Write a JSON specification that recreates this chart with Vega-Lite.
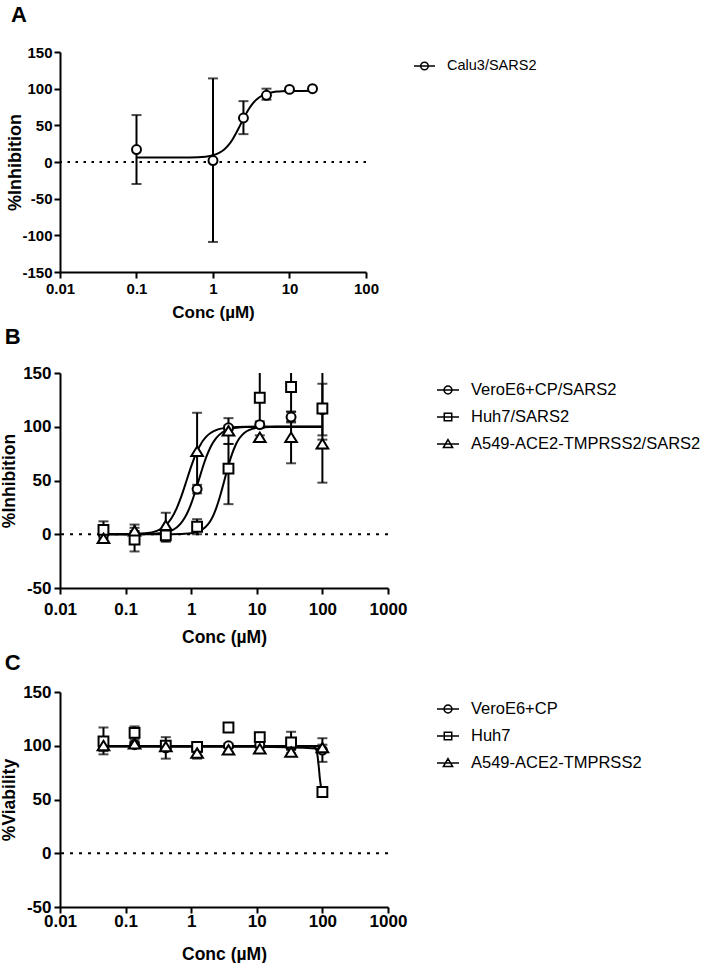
{
  "$schema": "https://vega.github.io/schema/vega-lite/v6.json",
  "padding": {"left": 0, "top": 4, "right": 0, "bottom": 0},
  "background": "white",
  "config": {
    "view": {"stroke": null},
    "font": "Liberation Sans",
    "axis": {"grid": false, "domainColor": "black", "domainWidth": 2, "tickColor": "black", "tickWidth": 2, "tickSize": 6, "labelFont": "Liberation Sans", "labelFontWeight": "bold", "labelColor": "black", "titleFont": "Liberation Sans", "titleFontWeight": "bold", "titleColor": "black", "labelFlush": false, "labelOverlap": false, "labelBound": false},
    "legend": {"labelFont": "Liberation Sans", "labelColor": "black", "labelLimit": 0},
    "title": {"font": "Liberation Sans", "fontWeight": "bold", "fontSize": 22, "color": "black", "anchor": "start", "frame": "bounds"}
  },
  "columns": 1,
  "spacing": 6,
  "datasets": {
    "A_pts": [
      {"conc": 0.1, "val": 17, "lo": -30, "hi": 64, "series": "Calu3/SARS2"},
      {"conc": 1, "val": 2, "lo": -109, "hi": 114, "series": "Calu3/SARS2"},
      {"conc": 2.5, "val": 60, "lo": 38, "hi": 83, "series": "Calu3/SARS2"},
      {"conc": 5, "val": 91, "lo": 85, "hi": 100, "series": "Calu3/SARS2"},
      {"conc": 10, "val": 99, "lo": null, "hi": null, "series": "Calu3/SARS2"},
      {"conc": 20, "val": 100, "lo": null, "hi": null, "series": "Calu3/SARS2"}
    ],
    "A_fit": [
      {"conc": 0.1, "val": 6.0, "series": "Calu3/SARS2"},
      {"conc": 0.2, "val": 6.0, "series": "Calu3/SARS2"},
      {"conc": 0.5, "val": 6.2, "series": "Calu3/SARS2"},
      {"conc": 0.8, "val": 7.3, "series": "Calu3/SARS2"},
      {"conc": 1.0, "val": 9.1, "series": "Calu3/SARS2"},
      {"conc": 1.2, "val": 12.3, "series": "Calu3/SARS2"},
      {"conc": 1.4, "val": 17.0, "series": "Calu3/SARS2"},
      {"conc": 1.6, "val": 23.3, "series": "Calu3/SARS2"},
      {"conc": 1.8, "val": 30.8, "series": "Calu3/SARS2"},
      {"conc": 2.0, "val": 39.1, "series": "Calu3/SARS2"},
      {"conc": 2.2, "val": 47.5, "series": "Calu3/SARS2"},
      {"conc": 2.4, "val": 55.4, "series": "Calu3/SARS2"},
      {"conc": 2.6, "val": 62.4, "series": "Calu3/SARS2"},
      {"conc": 2.8, "val": 68.5, "series": "Calu3/SARS2"},
      {"conc": 3.0, "val": 73.6, "series": "Calu3/SARS2"},
      {"conc": 3.3, "val": 79.6, "series": "Calu3/SARS2"},
      {"conc": 3.6, "val": 84.0, "series": "Calu3/SARS2"},
      {"conc": 4.0, "val": 88.0, "series": "Calu3/SARS2"},
      {"conc": 4.5, "val": 91.2, "series": "Calu3/SARS2"},
      {"conc": 5, "val": 93.1, "series": "Calu3/SARS2"},
      {"conc": 6, "val": 95.1, "series": "Calu3/SARS2"},
      {"conc": 7, "val": 96.0, "series": "Calu3/SARS2"},
      {"conc": 8, "val": 96.4, "series": "Calu3/SARS2"},
      {"conc": 10, "val": 96.7, "series": "Calu3/SARS2"},
      {"conc": 15, "val": 96.95, "series": "Calu3/SARS2"},
      {"conc": 20, "val": 97.0, "series": "Calu3/SARS2"}
    ],
    "B_pts": [
      {"conc": 0.046, "val": -1, "lo": -6, "hi": 4, "series": "VeroE6+CP/SARS2"},
      {"conc": 0.137, "val": 0, "lo": -3, "hi": 3, "series": "VeroE6+CP/SARS2"},
      {"conc": 0.41, "val": -2, "lo": -6, "hi": 2, "series": "VeroE6+CP/SARS2"},
      {"conc": 1.23, "val": 42, "lo": 38, "hi": 46, "series": "VeroE6+CP/SARS2"},
      {"conc": 3.7, "val": 99, "lo": 97, "hi": 101, "series": "VeroE6+CP/SARS2"},
      {"conc": 11.1, "val": 102, "lo": 99, "hi": 105, "series": "VeroE6+CP/SARS2"},
      {"conc": 33.3, "val": 109, "lo": 104, "hi": 114, "series": "VeroE6+CP/SARS2"},
      {"conc": 100, "val": 116, "lo": 92, "hi": 140, "series": "VeroE6+CP/SARS2"},
      {"conc": 0.046, "val": 4, "lo": -4, "hi": 12, "series": "Huh7/SARS2"},
      {"conc": 0.137, "val": -5, "lo": -16, "hi": 6, "series": "Huh7/SARS2"},
      {"conc": 0.41, "val": -1, "lo": -7, "hi": 5, "series": "Huh7/SARS2"},
      {"conc": 1.23, "val": 7, "lo": 0, "hi": 14, "series": "Huh7/SARS2"},
      {"conc": 3.7, "val": 61, "lo": 28, "hi": 84, "series": "Huh7/SARS2"},
      {"conc": 11.1, "val": 127, "lo": 100, "hi": 160, "series": "Huh7/SARS2"},
      {"conc": 33.3, "val": 137, "lo": 105, "hi": 175, "series": "Huh7/SARS2"},
      {"conc": 100, "val": 117, "lo": 48, "hi": 186, "series": "Huh7/SARS2"},
      {"conc": 0.046, "val": -4, "lo": -8, "hi": 0, "series": "A549-ACE2-TMPRSS2/SARS2"},
      {"conc": 0.137, "val": 3, "lo": -3, "hi": 9, "series": "A549-ACE2-TMPRSS2/SARS2"},
      {"conc": 0.41, "val": 8, "lo": -4, "hi": 20, "series": "A549-ACE2-TMPRSS2/SARS2"},
      {"conc": 1.23, "val": 77, "lo": 41, "hi": 113, "series": "A549-ACE2-TMPRSS2/SARS2"},
      {"conc": 3.7, "val": 96, "lo": 84, "hi": 108, "series": "A549-ACE2-TMPRSS2/SARS2"},
      {"conc": 11.1, "val": 90, "lo": 88, "hi": 92, "series": "A549-ACE2-TMPRSS2/SARS2"},
      {"conc": 33.3, "val": 90, "lo": 66, "hi": 114, "series": "A549-ACE2-TMPRSS2/SARS2"},
      {"conc": 100, "val": 84, "lo": 80, "hi": 88, "series": "A549-ACE2-TMPRSS2/SARS2"}
    ],
    "B_fit": [
      {"conc": 0.046, "val": 0, "series": "VeroE6+CP/SARS2"},
      {"conc": 0.1, "val": 0.01, "series": "VeroE6+CP/SARS2"},
      {"conc": 0.2, "val": 0.14, "series": "VeroE6+CP/SARS2"},
      {"conc": 0.3, "val": 0.59, "series": "VeroE6+CP/SARS2"},
      {"conc": 0.4, "val": 1.59, "series": "VeroE6+CP/SARS2"},
      {"conc": 0.5, "val": 3.41, "series": "VeroE6+CP/SARS2"},
      {"conc": 0.6, "val": 6.26, "series": "VeroE6+CP/SARS2"},
      {"conc": 0.7, "val": 10.3, "series": "VeroE6+CP/SARS2"},
      {"conc": 0.8, "val": 15.5, "series": "VeroE6+CP/SARS2"},
      {"conc": 0.9, "val": 21.6, "series": "VeroE6+CP/SARS2"},
      {"conc": 1.0, "val": 28.5, "series": "VeroE6+CP/SARS2"},
      {"conc": 1.1, "val": 35.8, "series": "VeroE6+CP/SARS2"},
      {"conc": 1.2, "val": 43.0, "series": "VeroE6+CP/SARS2"},
      {"conc": 1.3, "val": 50.0, "series": "VeroE6+CP/SARS2"},
      {"conc": 1.4, "val": 56.4, "series": "VeroE6+CP/SARS2"},
      {"conc": 1.5, "val": 62.3, "series": "VeroE6+CP/SARS2"},
      {"conc": 1.7, "val": 71.9, "series": "VeroE6+CP/SARS2"},
      {"conc": 2.0, "val": 81.9, "series": "VeroE6+CP/SARS2"},
      {"conc": 2.4, "val": 89.5, "series": "VeroE6+CP/SARS2"},
      {"conc": 3.0, "val": 94.9, "series": "VeroE6+CP/SARS2"},
      {"conc": 4.0, "val": 98.1, "series": "VeroE6+CP/SARS2"},
      {"conc": 5.0, "val": 99.1, "series": "VeroE6+CP/SARS2"},
      {"conc": 7.0, "val": 99.7, "series": "VeroE6+CP/SARS2"},
      {"conc": 10, "val": 99.9, "series": "VeroE6+CP/SARS2"},
      {"conc": 30, "val": 100, "series": "VeroE6+CP/SARS2"},
      {"conc": 100, "val": 100, "series": "VeroE6+CP/SARS2"},
      {"conc": 0.046, "val": 0, "series": "Huh7/SARS2"},
      {"conc": 0.2, "val": 0, "series": "Huh7/SARS2"},
      {"conc": 0.5, "val": 0.06, "series": "Huh7/SARS2"},
      {"conc": 1.0, "val": 0.94, "series": "Huh7/SARS2"},
      {"conc": 1.2, "val": 1.94, "series": "Huh7/SARS2"},
      {"conc": 1.5, "val": 4.6, "series": "Huh7/SARS2"},
      {"conc": 1.8, "val": 9.1, "series": "Huh7/SARS2"},
      {"conc": 2.0, "val": 13.2, "series": "Huh7/SARS2"},
      {"conc": 2.2, "val": 18.3, "series": "Huh7/SARS2"},
      {"conc": 2.4, "val": 24.0, "series": "Huh7/SARS2"},
      {"conc": 2.6, "val": 30.4, "series": "Huh7/SARS2"},
      {"conc": 2.8, "val": 37.0, "series": "Huh7/SARS2"},
      {"conc": 3.0, "val": 43.6, "series": "Huh7/SARS2"},
      {"conc": 3.2, "val": 50.0, "series": "Huh7/SARS2"},
      {"conc": 3.5, "val": 58.9, "series": "Huh7/SARS2"},
      {"conc": 3.8, "val": 66.5, "series": "Huh7/SARS2"},
      {"conc": 4.2, "val": 74.8, "series": "Huh7/SARS2"},
      {"conc": 4.7, "val": 82.3, "series": "Huh7/SARS2"},
      {"conc": 5.3, "val": 88.3, "series": "Huh7/SARS2"},
      {"conc": 6.0, "val": 92.5, "series": "Huh7/SARS2"},
      {"conc": 7.0, "val": 95.8, "series": "Huh7/SARS2"},
      {"conc": 8.5, "val": 98.0, "series": "Huh7/SARS2"},
      {"conc": 10, "val": 99.0, "series": "Huh7/SARS2"},
      {"conc": 13, "val": 99.6, "series": "Huh7/SARS2"},
      {"conc": 20, "val": 99.9, "series": "Huh7/SARS2"},
      {"conc": 100, "val": 100, "series": "Huh7/SARS2"},
      {"conc": 0.046, "val": 0, "series": "A549-ACE2-TMPRSS2/SARS2"},
      {"conc": 0.1, "val": 0.09, "series": "A549-ACE2-TMPRSS2/SARS2"},
      {"conc": 0.2, "val": 0.84, "series": "A549-ACE2-TMPRSS2/SARS2"},
      {"conc": 0.3, "val": 3.1, "series": "A549-ACE2-TMPRSS2/SARS2"},
      {"conc": 0.4, "val": 7.7, "series": "A549-ACE2-TMPRSS2/SARS2"},
      {"conc": 0.5, "val": 14.8, "series": "A549-ACE2-TMPRSS2/SARS2"},
      {"conc": 0.6, "val": 24.1, "series": "A549-ACE2-TMPRSS2/SARS2"},
      {"conc": 0.7, "val": 34.5, "series": "A549-ACE2-TMPRSS2/SARS2"},
      {"conc": 0.8, "val": 45.0, "series": "A549-ACE2-TMPRSS2/SARS2"},
      {"conc": 0.9, "val": 54.7, "series": "A549-ACE2-TMPRSS2/SARS2"},
      {"conc": 1.0, "val": 63.1, "series": "A549-ACE2-TMPRSS2/SARS2"},
      {"conc": 1.1, "val": 70.1, "series": "A549-ACE2-TMPRSS2/SARS2"},
      {"conc": 1.2, "val": 75.7, "series": "A549-ACE2-TMPRSS2/SARS2"},
      {"conc": 1.3, "val": 80.3, "series": "A549-ACE2-TMPRSS2/SARS2"},
      {"conc": 1.4, "val": 83.8, "series": "A549-ACE2-TMPRSS2/SARS2"},
      {"conc": 1.5, "val": 86.7, "series": "A549-ACE2-TMPRSS2/SARS2"},
      {"conc": 1.7, "val": 90.8, "series": "A549-ACE2-TMPRSS2/SARS2"},
      {"conc": 2.0, "val": 94.4, "series": "A549-ACE2-TMPRSS2/SARS2"},
      {"conc": 2.4, "val": 96.9, "series": "A549-ACE2-TMPRSS2/SARS2"},
      {"conc": 3.0, "val": 98.5, "series": "A549-ACE2-TMPRSS2/SARS2"},
      {"conc": 4.0, "val": 99.4, "series": "A549-ACE2-TMPRSS2/SARS2"},
      {"conc": 5.0, "val": 99.7, "series": "A549-ACE2-TMPRSS2/SARS2"},
      {"conc": 7.0, "val": 99.9, "series": "A549-ACE2-TMPRSS2/SARS2"},
      {"conc": 20, "val": 100, "series": "A549-ACE2-TMPRSS2/SARS2"},
      {"conc": 100, "val": 100, "series": "A549-ACE2-TMPRSS2/SARS2"}
    ],
    "C_pts": [
      {"conc": 0.046, "val": 100, "lo": 96, "hi": 104, "series": "VeroE6+CP"},
      {"conc": 0.137, "val": 101, "lo": 99, "hi": 103, "series": "VeroE6+CP"},
      {"conc": 0.41, "val": 98, "lo": 88, "hi": 108, "series": "VeroE6+CP"},
      {"conc": 1.23, "val": 97, "lo": 94, "hi": 100, "series": "VeroE6+CP"},
      {"conc": 3.7, "val": 100, "lo": 98, "hi": 102, "series": "VeroE6+CP"},
      {"conc": 11.1, "val": 101, "lo": 98, "hi": 104, "series": "VeroE6+CP"},
      {"conc": 33.3, "val": 100, "lo": 97, "hi": 103, "series": "VeroE6+CP"},
      {"conc": 100, "val": 96, "lo": 85, "hi": 107, "series": "VeroE6+CP"},
      {"conc": 0.046, "val": 104, "lo": 92, "hi": 117, "series": "Huh7"},
      {"conc": 0.137, "val": 112, "lo": 106, "hi": 118, "series": "Huh7"},
      {"conc": 0.41, "val": 100, "lo": 98, "hi": 102, "series": "Huh7"},
      {"conc": 1.23, "val": 99, "lo": 97, "hi": 101, "series": "Huh7"},
      {"conc": 3.7, "val": 117, "lo": 116, "hi": 118, "series": "Huh7"},
      {"conc": 11.1, "val": 108, "lo": 105, "hi": 111, "series": "Huh7"},
      {"conc": 33.3, "val": 103, "lo": 93, "hi": 113, "series": "Huh7"},
      {"conc": 100, "val": 57, "lo": 54, "hi": 60, "series": "Huh7"},
      {"conc": 0.046, "val": 100, "lo": 95, "hi": 105, "series": "A549-ACE2-TMPRSS2"},
      {"conc": 0.137, "val": 101.5, "lo": 99, "hi": 104, "series": "A549-ACE2-TMPRSS2"},
      {"conc": 0.41, "val": 99, "lo": 97, "hi": 101, "series": "A549-ACE2-TMPRSS2"},
      {"conc": 1.23, "val": 93, "lo": 88, "hi": 98, "series": "A549-ACE2-TMPRSS2"},
      {"conc": 3.7, "val": 96, "lo": 94, "hi": 98, "series": "A549-ACE2-TMPRSS2"},
      {"conc": 11.1, "val": 97, "lo": 95, "hi": 99, "series": "A549-ACE2-TMPRSS2"},
      {"conc": 33.3, "val": 94, "lo": 92, "hi": 96, "series": "A549-ACE2-TMPRSS2"},
      {"conc": 100, "val": 98, "lo": 95, "hi": 101, "series": "A549-ACE2-TMPRSS2"}
    ],
    "C_fit": [
      {"conc": 0.046, "val": 99.8, "series": "VeroE6+CP"},
      {"conc": 1, "val": 99.8, "series": "VeroE6+CP"},
      {"conc": 100, "val": 99.7, "series": "VeroE6+CP"},
      {"conc": 0.046, "val": 99.5, "series": "Huh7"},
      {"conc": 10, "val": 99.5, "series": "Huh7"},
      {"conc": 60, "val": 99.5, "series": "Huh7"},
      {"conc": 70, "val": 99.4, "series": "Huh7"},
      {"conc": 75, "val": 99.0, "series": "Huh7"},
      {"conc": 80, "val": 96.9, "series": "Huh7"},
      {"conc": 84, "val": 91.4, "series": "Huh7"},
      {"conc": 88, "val": 80.5, "series": "Huh7"},
      {"conc": 92, "val": 68.2, "series": "Huh7"},
      {"conc": 96, "val": 60.5, "series": "Huh7"},
      {"conc": 100, "val": 57.0, "series": "Huh7"},
      {"conc": 0.046, "val": 99.2, "series": "A549-ACE2-TMPRSS2"},
      {"conc": 10, "val": 99.0, "series": "A549-ACE2-TMPRSS2"},
      {"conc": 30, "val": 98.5, "series": "A549-ACE2-TMPRSS2"},
      {"conc": 60, "val": 97.8, "series": "A549-ACE2-TMPRSS2"},
      {"conc": 100, "val": 97.0, "series": "A549-ACE2-TMPRSS2"}
    ]
  },
  "concat": [
    {
      "width": 306, "height": 220,
      "title": {"text": "A", "offset": 18, "dx": 4},
      "resolve": {"scale": {"shape": "independent"}},
      "layer": [
        {"data": {"name": "A_fit"}, "mark": {"type": "line", "color": "black", "strokeWidth": 2, "interpolate": "monotone"},
         "encoding": {
           "x": {"field": "conc", "type": "quantitative", "scale": {"type": "log", "domain": [0.01, 100], "nice": false}, "axis": {"title": "Conc (µM)", "values": [0.01, 0.1, 1, 10, 100], "tickCount": 10, "labelExpr": "'' + datum.value", "labelFontSize": 15, "titleFontSize": 17, "labelPadding": 3, "titlePadding": 8, "labelOverlap": false, "labelFlush": false}},
           "y": {"field": "val", "type": "quantitative", "scale": {"domain": [-150, 150], "nice": false}, "axis": {"title": "%Inhibition", "values": [-150, -100, -50, 0, 50, 100, 150], "tickCount": 10, "labelExpr": "'' + datum.value", "labelFontSize": 15, "titleFontSize": 18, "labelPadding": 2, "titlePadding": -3, "labelOverlap": false, "labelFlush": false}},
           "detail": {"field": "series"}}},
        {"data": {"values": [{}]}, "mark": {"type": "rule", "color": "black", "strokeWidth": 2, "strokeDash": [2.5, 5.5]}, "encoding": {"y": {"datum": 0, "type": "quantitative"}}},
        {"data": {"name": "A_pts"}, "transform": [{"filter": "datum.lo != null"}], "mark": {"type": "rule", "color": "black", "strokeWidth": 2, "clip": true},
         "encoding": {"x": {"field": "conc", "type": "quantitative"}, "y": {"field": "lo", "type": "quantitative"}, "y2": {"field": "hi"}}},
        {"data": {"name": "A_pts"}, "transform": [{"filter": "datum.lo != null"}], "mark": {"type": "tick", "orient": "horizontal", "color": "black", "size": 10, "thickness": 2, "clip": true},
         "encoding": {"x": {"field": "conc", "type": "quantitative"}, "y": {"field": "lo", "type": "quantitative"}}},
        {"data": {"name": "A_pts"}, "transform": [{"filter": "datum.lo != null"}], "mark": {"type": "tick", "orient": "horizontal", "color": "black", "size": 10, "thickness": 2, "clip": true},
         "encoding": {"x": {"field": "conc", "type": "quantitative"}, "y": {"field": "hi", "type": "quantitative"}}},
        {"data": {"name": "A_pts"}, "mark": {"type": "point", "filled": true, "fill": "white", "stroke": "black", "strokeWidth": 2, "size": 80, "opacity": 1},
         "encoding": {"x": {"field": "conc", "type": "quantitative"}, "y": {"field": "val", "type": "quantitative"},
           "shape": {"field": "series", "type": "nominal", "scale": {"domain": ["Calu3/SARS2"], "range": ["circle"]}, "legend": null}}},
        {"data": {"name": "A_pts"}, "transform": [{"filter": "false"}], "mark": {"type": "point", "filled": true, "fill": "white", "stroke": "black", "strokeWidth": 2, "opacity": 1},
         "encoding": {"x": {"field": "conc", "type": "quantitative"}, "y": {"field": "val", "type": "quantitative"},
           "shape": {"field": "series", "type": "nominal", "scale": {"domain": ["Calu3/SARS2"], "range": ["M-1,0H1M0.36,0A0.36,0.36,0,1,1,-0.36,0A0.36,0.36,0,1,1,0.36,0Z"]},
             "legend": {"title": null, "orient": "none", "legendX": 353, "legendY": 2.5, "labelFontSize": 14.5, "symbolSize": 441, "labelOffset": 11, "rowPadding": 5,
               "encode": {"symbols": {"update": {"fill": {"value": "white"}, "stroke": {"value": "black"}, "strokeWidth": {"value": 2}, "opacity": {"value": 1}}}}}}}}
      ]
    },
    {
      "width": 328, "height": 215,
      "title": {"text": "B", "offset": 15, "dx": 4},
      "resolve": {"scale": {"shape": "independent"}},
      "layer": [
        {"data": {"name": "B_fit"}, "mark": {"type": "line", "color": "black", "strokeWidth": 2, "interpolate": "monotone"},
         "encoding": {
           "x": {"field": "conc", "type": "quantitative", "scale": {"type": "log", "domain": [0.01, 1000], "nice": false}, "axis": {"title": "Conc (µM)", "values": [0.01, 0.1, 1, 10, 100, 1000], "tickCount": 10, "labelExpr": "'' + datum.value", "labelFontSize": 17, "titleFontSize": 17.5, "labelPadding": 7, "titlePadding": 11, "labelOverlap": false, "labelFlush": false}},
           "y": {"field": "val", "type": "quantitative", "scale": {"domain": [-50, 150], "nice": false}, "axis": {"title": "%Inhibition", "values": [-50, 0, 50, 100, 150], "tickCount": 10, "labelExpr": "'' + datum.value", "labelFontSize": 17, "titleFontSize": 17.5, "labelPadding": 3, "titlePadding": 4, "labelOverlap": false, "labelFlush": false}},
           "detail": {"field": "series"}}},
        {"data": {"values": [{}]}, "mark": {"type": "rule", "color": "black", "strokeWidth": 2, "strokeDash": [3, 6]}, "encoding": {"y": {"datum": 0, "type": "quantitative"}}},
        {"data": {"name": "B_pts"}, "mark": {"type": "rule", "color": "black", "strokeWidth": 2, "clip": true},
         "encoding": {"x": {"field": "conc", "type": "quantitative"}, "y": {"field": "lo", "type": "quantitative"}, "y2": {"field": "hi"}}},
        {"data": {"name": "B_pts"}, "mark": {"type": "tick", "orient": "horizontal", "color": "black", "size": 10, "thickness": 2, "clip": true},
         "encoding": {"x": {"field": "conc", "type": "quantitative"}, "y": {"field": "lo", "type": "quantitative"}}},
        {"data": {"name": "B_pts"}, "mark": {"type": "tick", "orient": "horizontal", "color": "black", "size": 10, "thickness": 2, "clip": true},
         "encoding": {"x": {"field": "conc", "type": "quantitative"}, "y": {"field": "hi", "type": "quantitative"}}},
        {"data": {"name": "B_pts"}, "mark": {"type": "point", "filled": true, "fill": "white", "stroke": "black", "strokeWidth": 2, "size": 80, "opacity": 1},
         "encoding": {"x": {"field": "conc", "type": "quantitative"}, "y": {"field": "val", "type": "quantitative"},
           "shape": {"field": "series", "type": "nominal", "scale": {"domain": ["VeroE6+CP/SARS2", "Huh7/SARS2", "A549-ACE2-TMPRSS2/SARS2"], "range": ["circle", "M-1.1,-1.1H1.1V1.1H-1.1Z", "M0,-1.1L1.3,1H-1.3Z"]}, "legend": null}}},
        {"data": {"name": "B_pts"}, "transform": [{"filter": "false"}], "mark": {"type": "point", "filled": true, "fill": "white", "stroke": "black", "strokeWidth": 2, "opacity": 1},
         "encoding": {"x": {"field": "conc", "type": "quantitative"}, "y": {"field": "val", "type": "quantitative"},
           "shape": {"field": "series", "type": "nominal", "scale": {"domain": ["VeroE6+CP/SARS2", "Huh7/SARS2", "A549-ACE2-TMPRSS2/SARS2"], "range": ["M-1,0H1M0.36,0A0.36,0.36,0,1,1,-0.36,0A0.36,0.36,0,1,1,0.36,0Z", "M-1,0H1M-0.34,-0.34H0.34V0.34H-0.34Z", "M-1,0H1M0,-0.4L0.42,0.32H-0.42Z"]},
             "legend": {"title": null, "orient": "none", "legendX": 376, "legendY": 5, "labelFontSize": 16.5, "symbolSize": 484, "labelOffset": 11, "rowPadding": 6,
               "encode": {"symbols": {"update": {"fill": {"value": "white"}, "stroke": {"value": "black"}, "strokeWidth": {"value": 2}, "opacity": {"value": 1}}}}}}}}
      ]
    },
    {
      "width": 328, "height": 215,
      "title": {"text": "C", "offset": 8, "dx": 4},
      "resolve": {"scale": {"shape": "independent"}},
      "layer": [
        {"data": {"name": "C_fit"}, "mark": {"type": "line", "color": "black", "strokeWidth": 2, "interpolate": "monotone"},
         "encoding": {
           "x": {"field": "conc", "type": "quantitative", "scale": {"type": "log", "domain": [0.01, 1000], "nice": false}, "axis": {"title": "Conc (µM)", "values": [0.01, 0.1, 1, 10, 100, 1000], "tickCount": 10, "labelExpr": "'' + datum.value", "labelFontSize": 17, "titleFontSize": 17.5, "labelPadding": 0, "titlePadding": 16, "labelOverlap": false, "labelFlush": false}},
           "y": {"field": "val", "type": "quantitative", "scale": {"domain": [-50, 150], "nice": false}, "axis": {"title": "%Viability", "values": [-50, 0, 50, 100, 150], "tickCount": 10, "labelExpr": "'' + datum.value", "labelFontSize": 17, "titleFontSize": 17.5, "labelPadding": 3, "titlePadding": 4, "labelOverlap": false, "labelFlush": false}},
           "detail": {"field": "series"}}},
        {"data": {"values": [{}]}, "mark": {"type": "rule", "color": "black", "strokeWidth": 2, "strokeDash": [3, 6]}, "encoding": {"y": {"datum": 0, "type": "quantitative"}}},
        {"data": {"name": "C_pts"}, "mark": {"type": "rule", "color": "black", "strokeWidth": 2, "clip": true},
         "encoding": {"x": {"field": "conc", "type": "quantitative"}, "y": {"field": "lo", "type": "quantitative"}, "y2": {"field": "hi"}}},
        {"data": {"name": "C_pts"}, "mark": {"type": "tick", "orient": "horizontal", "color": "black", "size": 10, "thickness": 2, "clip": true},
         "encoding": {"x": {"field": "conc", "type": "quantitative"}, "y": {"field": "lo", "type": "quantitative"}}},
        {"data": {"name": "C_pts"}, "mark": {"type": "tick", "orient": "horizontal", "color": "black", "size": 10, "thickness": 2, "clip": true},
         "encoding": {"x": {"field": "conc", "type": "quantitative"}, "y": {"field": "hi", "type": "quantitative"}}},
        {"data": {"name": "C_pts"}, "mark": {"type": "point", "filled": true, "fill": "white", "stroke": "black", "strokeWidth": 2, "size": 80, "opacity": 1},
         "encoding": {"x": {"field": "conc", "type": "quantitative"}, "y": {"field": "val", "type": "quantitative"},
           "shape": {"field": "series", "type": "nominal", "scale": {"domain": ["VeroE6+CP", "Huh7", "A549-ACE2-TMPRSS2"], "range": ["circle", "M-1.1,-1.1H1.1V1.1H-1.1Z", "M0,-1.1L1.3,1H-1.3Z"]}, "legend": null}}},
        {"data": {"name": "C_pts"}, "transform": [{"filter": "false"}], "mark": {"type": "point", "filled": true, "fill": "white", "stroke": "black", "strokeWidth": 2, "opacity": 1},
         "encoding": {"x": {"field": "conc", "type": "quantitative"}, "y": {"field": "val", "type": "quantitative"},
           "shape": {"field": "series", "type": "nominal", "scale": {"domain": ["VeroE6+CP", "Huh7", "A549-ACE2-TMPRSS2"], "range": ["M-1,0H1M0.36,0A0.36,0.36,0,1,1,-0.36,0A0.36,0.36,0,1,1,0.36,0Z", "M-1,0H1M-0.34,-0.34H0.34V0.34H-0.34Z", "M-1,0H1M0,-0.4L0.42,0.32H-0.42Z"]},
             "legend": {"title": null, "orient": "none", "legendX": 376, "legendY": 5, "labelFontSize": 16.5, "symbolSize": 484, "labelOffset": 11, "rowPadding": 6,
               "encode": {"symbols": {"update": {"fill": {"value": "white"}, "stroke": {"value": "black"}, "strokeWidth": {"value": 2}, "opacity": {"value": 1}}}}}}}}
      ]
    }
  ]
}
